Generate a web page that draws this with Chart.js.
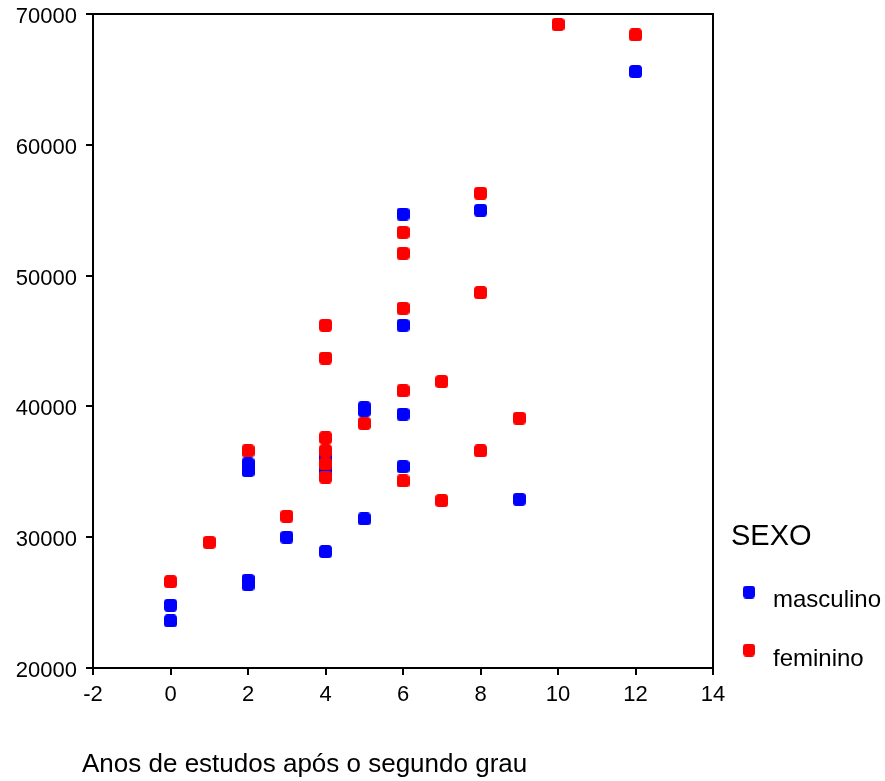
<!DOCTYPE html>
<html>
<head>
<meta charset="utf-8">
<script src="https://cdn.jsdelivr.net/npm/chart.js@4.4.1/dist/chart.umd.min.js"></script>
<style>
  html, body { margin: 0; padding: 0; background: #fff; }
  #wrap { width: 885px; height: 781px; }
</style>
</head>
<body>
<div id="wrap"><canvas id="c" width="885" height="781"></canvas></div>
<script>
// ---- data ----
const seriesNames = ["masculino", "feminino"];
const legendTitle = "SEXO";
const xTitle = "Anos de estudos após o segundo grau";

const mascX = [0, 0, 2, 2, 2, 2, 3, 4, 4, 4, 5, 5, 5, 6, 6, 6, 6, 8, 9, 12];
const mascY = [24800, 23600, 35600, 35100, 26700, 26400, 30000, 28900, 36100, 35100,
               39900, 39700, 31400, 54700, 46200, 39400, 35400, 55000, 32900, 65600];

const femX = [0, 1, 2, 3, 4, 4, 4, 4, 4, 4, 5, 6, 6, 6, 6, 6, 7, 7, 8, 8, 8, 9, 10, 12];
const femY = [26600, 29600, 36600, 31600, 46200, 43700, 37600, 36600, 35600, 34600,
              38700, 53300, 51700, 47500, 41200, 34300, 41900, 32800, 56300, 48700,
              36600, 39100, 69200, 68400];

const xMin = -2, xMax = 14, xStep = 2;
const yMin = 20000, yMax = 70000, yStep = 10000;

const colors = ["#0000ff", "#ff0000"];

// ---- marker image (rounded square) ----
function makeMarker(color, w, h, r) {
  const c = document.createElement('canvas');
  c.width = w; c.height = h;
  const g = c.getContext('2d');
  g.fillStyle = color;
  g.beginPath();
  g.moveTo(r, 0);
  g.lineTo(w - r, 0); g.quadraticCurveTo(w, 0, w, r);
  g.lineTo(w, h - r); g.quadraticCurveTo(w, h, w - r, h);
  g.lineTo(r, h); g.quadraticCurveTo(0, h, 0, h - r);
  g.lineTo(0, r); g.quadraticCurveTo(0, 0, r, 0);
  g.closePath();
  g.fill();
  return c;
}
const markers = colors.map(c => makeMarker(c, 13, 13, 3.5));
const legendMarkers = colors.map(c => makeMarker(c, 12, 13, 3.5));

const toPts = (xs, ys) => xs.map((x, i) => ({ x: x, y: ys[i] }));

const frame = {
  id: 'frame',
  afterDraw(chart) {
    const { ctx, chartArea: a } = chart;
    ctx.save();
    ctx.strokeStyle = '#000';
    ctx.lineWidth = 2;
    ctx.beginPath();
    ctx.moveTo(a.left, a.top);
    ctx.lineTo(a.right, a.top);
    ctx.lineTo(a.right, a.bottom);
    ctx.stroke();
    ctx.restore();
  }
};

const customLegend = {
  id: 'customLegend',
  afterDraw(chart) {
    const ctx = chart.ctx;
    ctx.save();
    ctx.fillStyle = '#000';
    ctx.textAlign = 'left';
    ctx.textBaseline = 'alphabetic';
    ctx.font = '29px "Liberation Sans", Arial, sans-serif';
    ctx.fillText(legendTitle, 731, 545);
    ctx.font = '24px "Liberation Sans", Arial, sans-serif';
    const rows = [{ my: 592, ty: 607 }, { my: 650, ty: 666 }];
    chart.data.datasets.forEach((ds, i) => {
      const m = legendMarkers[i];
      ctx.drawImage(m, 749 - m.width / 2, rows[i].my - m.height / 2);
      ctx.fillText(ds.label, 773, rows[i].ty);
    });
    // x axis title
    ctx.font = '26px "Liberation Sans", Arial, sans-serif';
    ctx.fillText(xTitle, 82, 772);
    ctx.restore();
  }
};

new Chart(document.getElementById('c'), {
  type: 'scatter',
  data: {
    datasets: [
      { label: seriesNames[0], data: toPts(mascX, mascY), pointStyle: markers[0],
        backgroundColor: colors[0], borderColor: colors[0], order: 1 },
      { label: seriesNames[1], data: toPts(femX, femY), pointStyle: markers[1],
        backgroundColor: colors[1], borderColor: colors[1], order: 0 }
    ]
  },
  options: {
    responsive: false,
    animation: false,
    events: [],
    layout: { padding: { left: 0, top: 14, right: 172, bottom: 0 } },
    plugins: { legend: { display: false }, tooltip: { enabled: false }, title: { display: false } },
    scales: {
      x: {
        type: 'linear', min: xMin, max: xMax,
        ticks: { stepSize: xStep, color: '#000', padding: 7,
                 callback: v => String(v),
                 font: { size: 22, family: '"Liberation Sans", Arial, sans-serif' } },
        grid: { display: true, drawOnChartArea: false, drawTicks: true, tickLength: 7, color: '#000', lineWidth: 2 },
        border: { display: true, color: '#000', width: 2 },
        afterFit(s) { s.height = 113; s.paddingLeft = 0; s.paddingRight = 0; }
      },
      y: {
        type: 'linear', min: yMin, max: yMax,
        ticks: { stepSize: yStep, color: '#000', padding: 9, labelOffset: 3,
                 callback: v => String(v),
                 font: { size: 22, family: '"Liberation Sans", Arial, sans-serif' } },
        grid: { display: true, drawOnChartArea: false, drawTicks: true, tickLength: 7, color: '#000', lineWidth: 2 },
        border: { display: true, color: '#000', width: 2 },
        afterFit(s) { s.width = 93; s.paddingTop = 0; s.paddingBottom = 0; }
      }
    }
  },
  plugins: [frame, customLegend]
});
</script>
</body>
</html>
